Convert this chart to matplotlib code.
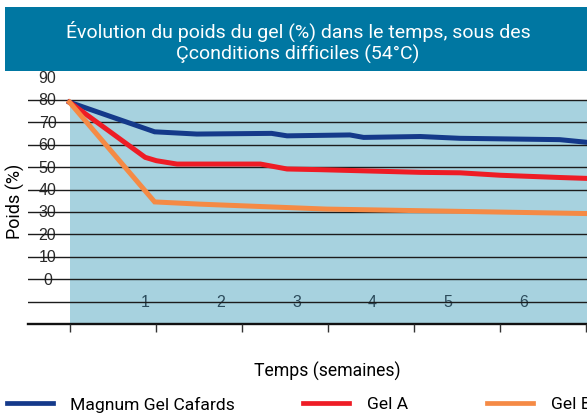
import matplotlib
matplotlib.use("Agg")
import matplotlib.pyplot as plt
from matplotlib.patches import Rectangle
from matplotlib.lines import Line2D

plt.rcParams['font.family'] = ['Roboto', 'DejaVu Sans']

# ---- data (x in weeks) ----
magnum_x = [0, 0.99, 1.48, 2.35, 2.53, 3.26, 3.42, 4.08, 4.54, 5.70, 6.02]
magnum_y = [79, 65.8, 64.8, 65.1, 64.0, 64.4, 63.3, 63.7, 62.9, 62.3, 61.1]
gelA_x = [0, 0.88, 1.01, 1.25, 2.22, 2.53, 2.91, 4.08, 4.54, 5.01, 5.70, 6.02]
gelA_y = [79, 54.4, 52.9, 51.4, 51.4, 49.2, 48.9, 47.7, 47.5, 46.4, 45.4, 45.0]
gelB_x = [0, 0.99, 1.52, 2.99, 6.02]
gelB_y = [79, 34.5, 33.5, 31.3, 29.3]

series_names = ["Magnum Gel Cafards", "Gel A", "Gel B"]
series_colors = ["#14398a", "#ee1c25", "#f58a45"]
y_ticks = [90, 80, 70, 60, 50, 40, 30, 20, 10, 0]
grid_values = [80, 70, 60, 50, 40, 30, 20, 10, 0, -10]
week_labels = ["1", "2", "3", "4", "5", "6"]
week_ticks = [0, 1, 2, 3, 4, 5, 6]

title = "Évolution du poids du gel (%) dans le temps, sous des\nÇconditions difficiles (54°C)"

W, H = 587, 414
fig = plt.figure(figsize=(W / 100, H / 100), dpi=100)

left_px, right_px = 28, 587
top_px, bot_px = 78.6, 325
ax = fig.add_axes([left_px / W, 1 - bot_px / H, (right_px - left_px) / W, (bot_px - top_px) / H])
x0_px, px_per_week = 69.5, 86.0
ax.set_xlim((left_px - x0_px) / px_per_week, (right_px - x0_px) / px_per_week)
ax.set_ylim(-20, 90)
for s in ax.spines.values():
    s.set_visible(False)
ax.set_xticks([])
ax.set_yticks([])
ax.patch.set_alpha(0)

xmax = ax.get_xlim()[1]
ax.add_patch(Rectangle((0, -20), xmax, 100, facecolor="#a7d2df", edgecolor="none", zorder=0))

# y tick labels (under grid lines)
for v in y_ticks:
    ax.text((47.5 - x0_px) / px_per_week, v, str(v), ha="center", va="center",
            fontsize=11.5, color="#2a2a2a", family=["Liberation Sans"], zorder=1)

# week labels inside plot
for i, lab in enumerate(week_labels, start=1):
    ax.text(i * 0.88, -10, lab, ha="center", va="center", fontsize=11.5,
            color="#2b4a5a", family=["Liberation Sans"], zorder=1)

for v in grid_values:
    ax.axhline(v, color="#1c1c1c", lw=1.0, zorder=2)
ax.axhline(-20, color="#111111", lw=1.7, zorder=2, clip_on=False)

# bottom ticks
tick_len = 8 / 22.4 * 10
ax.vlines(week_ticks, -20 - tick_len, -20, color="#333333", lw=1.0, clip_on=False, zorder=2)

for xs, ys, c in zip([magnum_x, gelA_x, gelB_x], [magnum_y, gelA_y, gelB_y], series_colors):
    ax.plot(xs, ys, color=c, lw=3.6, solid_joinstyle="miter", zorder=3, clip_on=False)

# title banner
fig.add_artist(Rectangle((5 / W, 1 - 72 / H), (W - 5) / W, 64 / H, transform=fig.transFigure,
                         facecolor="#0077a2", edgecolor="none", zorder=5))
fig.text(298 / W, 1 - 42 / H, title, ha="center", va="center", color="white",
         fontsize=14, linespacing=1.2, zorder=6)

fig.text(15.5 / W, 1 - 201 / H, "Poids (%)", rotation=90, ha="center", va="center",
         fontsize=13, color="black")
fig.text(327 / W, 1 - 371 / H, "Temps (semaines)", ha="center", va="center",
         fontsize=12.7, color="black")

# legend
leg_y = 1 - 403.5 / H
handles = [(6.7, 52.7, 70), (303.3, 349.3, 366.7), (487.3, 533.3, 550.7)]
for (hx0, hx1, tx), name, c in zip(handles, series_names, series_colors):
    fig.add_artist(Line2D([hx0 / W, hx1 / W], [leg_y, leg_y], transform=fig.transFigure,
                          color=c, lw=3.4))
    fig.text(tx / W, 1 - 404.5 / H, name, ha="left", va="center", fontsize=12.6, color="black")

fig.savefig("out.png", dpi=100)
